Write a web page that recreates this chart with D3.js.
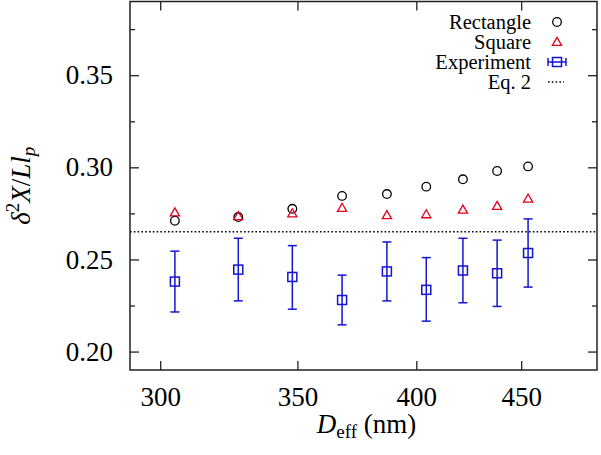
<!DOCTYPE html>
<html>
<head>
<meta charset="utf-8">
<script src="https://cdn.jsdelivr.net/npm/d3@7"></script>
<style>
  html, body { margin: 0; padding: 0; background: #fff; }
  svg { display: block; }
  svg text { font-family: "Liberation Serif"; }
</style>
</head>
<body>
<svg id="chart" width="601" height="455" font-family='"Liberation Serif"'></svg>
<script>
// ---- data ----
const dEff = [305, 327.5, 348, 368, 387, 404.5, 421.5, 438, 453.5];
const rectangle = [0.271, 0.273, 0.2775, 0.2845, 0.2855, 0.2895, 0.2935, 0.298, 0.3005];
const square = [0.2755, 0.2735, 0.275, 0.278, 0.274, 0.2745, 0.277, 0.279, 0.283];
const experiment = [0.238, 0.2445, 0.2405, 0.228, 0.2435, 0.2335, 0.244, 0.2425, 0.2535];
const expLow = [0.2215, 0.2275, 0.223, 0.2145, 0.2275, 0.2165, 0.2265, 0.2245, 0.235];
const expHigh = [0.2545, 0.2615, 0.2575, 0.2415, 0.2595, 0.251, 0.2615, 0.2605, 0.272];
const eq2 = 0.265;
const xTicks = [300, 350, 400, 450];
const yTicks = [0.20, 0.25, 0.30, 0.35];
const yMinorTicks = [0.225, 0.275, 0.325, 0.375];
const legendLabels = ["Rectangle", "Square", "Experiment", "Eq. 2"];

const FONT = '"Liberation Serif"';
const red = "#e0001b", blue = "#1414d2";

const svg = d3.select("#chart");
const L = 130, R = 597, T = 1.5, B = 370;
const x = d3.scaleLog().domain([290, 490]).range([L, R]);
const y = d3.scaleLinear().domain([0.19, 0.39]).range([B, T]);

// Eq. 2 dotted line
svg.append("line")
  .attr("x1", L).attr("x2", R).attr("y1", y(eq2)).attr("y2", y(eq2))
  .attr("stroke", "#000").attr("stroke-width", 1.6).attr("stroke-dasharray", "1.6,2.2");

// Axes
const fmtY = d3.format(".2f");
const axB = d3.axisBottom(x).tickValues(xTicks).tickFormat(d3.format("d")).tickSize(-9).tickPadding(17);
const axT = d3.axisTop(x).tickValues(xTicks).tickFormat("").tickSize(-9);
const axL = d3.axisLeft(y).tickValues(yTicks).tickFormat(fmtY).tickSize(-9).tickPadding(17);
const axR = d3.axisRight(y).tickValues(yTicks).tickFormat("").tickSize(-9);
const axLm = d3.axisLeft(y).tickValues(yMinorTicks).tickFormat("").tickSize(-5);
const axRm = d3.axisRight(y).tickValues(yMinorTicks).tickFormat("").tickSize(-5);

function style(g) {
  g.attr("font-family", FONT).attr("font-size", 27);
  g.select(".domain").remove();
  g.selectAll(".tick line").attr("stroke", "#222").attr("stroke-width", 1.3);
  g.selectAll("text").attr("font-size", 27).attr("font-family", FONT).attr("fill", "#000");
}
svg.append("g").attr("transform", `translate(0,${B})`).call(axB).call(style);
svg.append("g").attr("transform", `translate(0,${T})`).call(axT).call(style);
svg.append("g").attr("transform", `translate(${L},0)`).call(axL).call(style);
svg.append("g").attr("transform", `translate(${R},0)`).call(axR).call(style);
svg.append("g").attr("transform", `translate(${L},0)`).call(axLm).call(style);
svg.append("g").attr("transform", `translate(${R},0)`).call(axRm).call(style);

// frame
svg.append("rect").attr("x", L).attr("y", T).attr("width", R - L).attr("height", B - T)
  .attr("fill", "none").attr("stroke", "#222").attr("stroke-width", 1.5);

// markers
function circle(g, cx, cy) {
  g.append("circle").attr("cx", cx).attr("cy", cy).attr("r", 4.3)
    .attr("fill", "none").attr("stroke", "#000").attr("stroke-width", 1.3);
}
function tri(g, cx, cy) {
  const s = 4.6;
  g.append("path").attr("d", `M${cx},${cy - s}L${cx + s},${cy + s * 0.75}L${cx - s},${cy + s * 0.75}Z`)
    .attr("fill", "none").attr("stroke", red).attr("stroke-width", 1.3);
}
function sq(g, cx, cy) {
  const s = 4.5;
  g.append("rect").attr("x", cx - s).attr("y", cy - s).attr("width", 2 * s).attr("height", 2 * s)
    .attr("fill", "none").attr("stroke", blue).attr("stroke-width", 1.5);
}
function errbar(g, cx, y1, y2) {
  const c = 4.5;
  g.append("line").attr("x1", cx).attr("x2", cx).attr("y1", y1).attr("y2", y2).attr("stroke", blue).attr("stroke-width", 1.5);
  g.append("line").attr("x1", cx - c).attr("x2", cx + c).attr("y1", y1).attr("y2", y1).attr("stroke", blue).attr("stroke-width", 1.5);
  g.append("line").attr("x1", cx - c).attr("x2", cx + c).attr("y1", y2).attr("y2", y2).attr("stroke", blue).attr("stroke-width", 1.5);
}

const gm = svg.append("g");
dEff.forEach((d, i) => circle(gm, x(d), y(rectangle[i])));
dEff.forEach((d, i) => tri(gm, x(d), y(square[i])));
dEff.forEach((d, i) => {
  errbar(gm, x(d), y(expHigh[i]), y(expLow[i]));
  sq(gm, x(d), y(experiment[i]));
});

// legend
const lx = 531, sx = 557, ly0 = 22, dy = 20;
const lg = svg.append("g");
legendLabels.forEach((t, i) => {
  lg.append("text").attr("x", lx).attr("y", ly0 + i * dy).attr("dy", "0.33em")
    .attr("text-anchor", "end").attr("font-size", 20.5).attr("font-family", FONT).text(t);
});
circle(lg, sx, ly0);
tri(lg, sx, ly0 + dy);
{
  const yy = ly0 + 2 * dy;
  lg.append("line").attr("x1", sx - 9).attr("x2", sx + 9).attr("y1", yy).attr("y2", yy).attr("stroke", blue).attr("stroke-width", 1.5);
  lg.append("line").attr("x1", sx - 9).attr("x2", sx - 9).attr("y1", yy - 4).attr("y2", yy + 4).attr("stroke", blue).attr("stroke-width", 1.5);
  lg.append("line").attr("x1", sx + 9).attr("x2", sx + 9).attr("y1", yy - 4).attr("y2", yy + 4).attr("stroke", blue).attr("stroke-width", 1.5);
  sq(lg, sx, yy);
}
lg.append("line").attr("x1", sx - 9).attr("x2", sx + 7).attr("y1", ly0 + 3 * dy).attr("y2", ly0 + 3 * dy)
  .attr("stroke", "#000").attr("stroke-width", 1.6).attr("stroke-dasharray", "1.6,2.2");

// x axis label
const xl = svg.append("text").attr("x", (L + R) / 2 + 3).attr("y", 433).attr("text-anchor", "middle")
  .attr("font-size", 27).attr("font-family", FONT);
xl.append("tspan").attr("font-style", "italic").text("D");
xl.append("tspan").attr("font-size", 19).attr("dy", 5).text("eff");
xl.append("tspan").attr("dy", -5).text(" (nm)");

// y axis label
const yl = svg.append("text").attr("transform", `translate(30,${(T + B) / 2}) rotate(-90)`)
  .attr("text-anchor", "middle").attr("font-size", 27).attr("font-family", FONT);
yl.append("tspan").attr("font-style", "italic").text("δ");
yl.append("tspan").attr("font-size", 19).attr("dy", -11).text("2");
yl.append("tspan").attr("dy", 11).attr("font-style", "italic").text("X");
yl.append("tspan").text("/");
yl.append("tspan").attr("font-style", "italic").text("Ll");
yl.append("tspan").attr("font-style", "italic").attr("font-size", 19).attr("dy", 5).text("p");
</script>
</body>
</html>
